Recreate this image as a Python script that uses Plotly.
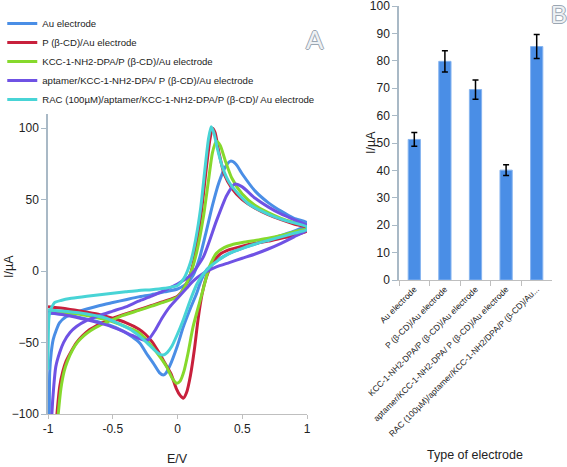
import plotly.graph_objects as go

# ---------------- Panel A : cyclic voltammograms (E/V, I/uA) ----------------
au_E = [-0.995, -0.99, -0.987, -0.975, -0.96, -0.935, -0.91, -0.86, -0.8, -0.7, -0.6, -0.5, -0.4, -0.3, -0.2, -0.1, 0.0,
        0.06, 0.12, 0.17, 0.22, 0.27, 0.32, 0.37, 0.41, 0.45, 0.5, 0.6, 0.7, 0.8, 0.9, 1.0,
        1.0, 0.9, 0.8, 0.7, 0.6, 0.5, 0.4, 0.3, 0.226, 0.18, 0.148, 0.1, 0.045, 0.0, -0.058, -0.09, -0.11, -0.14,
        -0.19, -0.237, -0.29, -0.35, -0.42, -0.55, -0.68, -0.8, -0.93, -1.0]
au_I = [-115, -100, -71, -57, -48, -41, -36, -32, -29.5, -26.5, -24, -22, -20, -18, -16.5, -14.5, -12.5,
        -9.5, -3, 9, 27, 46, 62, 73, 77, 75, 68, 56, 48, 42, 37, 34,
        32, 28, 25, 22, 19, 16, 12.5, 7, 1, -7, -15.5, -26, -39, -52, -66, -71.5, -72.7, -71,
        -64, -58, -50.5, -46, -42, -37, -34, -31.5, -29.8, -29.5]

pcd_E = [-0.945, -0.93, -0.91, -0.885, -0.86, -0.82, -0.78, -0.73, -0.68, -0.6, -0.5, -0.42, -0.3, -0.2, -0.1, 0.0,
         0.05, 0.1, 0.14, 0.18, 0.22, 0.25, 0.27, 0.29, 0.32, 0.36, 0.42, 0.5, 0.6, 0.7, 0.8, 0.9, 1.0,
         1.0, 0.9, 0.8, 0.7, 0.6, 0.5, 0.4, 0.33, 0.28, 0.25, 0.22, 0.19, 0.16, 0.13, 0.1, 0.07, 0.045, 0.02,
         -0.01, -0.05, -0.1, -0.15, -0.2, -0.25, -0.3, -0.4, -0.5, -0.6, -0.7, -0.85, -1.0]
pcd_I = [-115, -99, -81, -70, -63, -56, -50, -45, -41, -37, -33, -30.5, -27, -24, -21, -17.5,
         -12, -2, 14, 38, 70, 92, 100, 97, 83, 68, 58, 50, 44, 39.5, 36, 33, 30.5,
         28, 25, 23, 21, 19.5, 17.5, 15, 12, 7, 2, -5, -16, -33, -55, -73, -85, -89, -87,
         -82, -72, -64, -56, -49, -44, -40.5, -36, -33, -30.5, -28.8, -26.5, -25]

kcc_E = [-0.935, -0.92, -0.9, -0.875, -0.85, -0.81, -0.77, -0.72, -0.67, -0.6, -0.5, -0.42, -0.3, -0.2, -0.1, 0.0,
         0.05, 0.1, 0.15, 0.2, 0.24, 0.27, 0.3, 0.33, 0.37, 0.42, 0.5, 0.6, 0.7, 0.8, 0.9, 1.0,
         1.0, 0.9, 0.8, 0.7, 0.6, 0.5, 0.42, 0.36, 0.3, 0.26, 0.238, 0.2, 0.17, 0.12, 0.08, 0.05, 0.02, -0.006,
         -0.04, -0.084, -0.12, -0.16, -0.24, -0.3, -0.37, -0.45, -0.55, -0.7, -0.85, -1.0]
kcc_I = [-115, -99, -82, -70, -63, -55, -49.5, -45, -41.5, -38, -34, -31, -27.5, -24.5, -21.5, -18,
         -12, -2, 14, 38, 64, 83, 91, 88, 77, 65, 54, 46, 41, 37, 34, 32,
         30, 27.5, 25, 23, 21.5, 20, 18.5, 16.5, 12.5, 6, 0.8, -12, -22, -39, -58, -70, -77, -78.5,
         -75, -67, -62, -57, -48, -43, -40, -37, -34, -31, -29, -28]

apt_E = [-0.975, -0.97, -0.955, -0.94, -0.91, -0.88, -0.83, -0.78, -0.7, -0.6, -0.5, -0.4, -0.3, -0.2, -0.1, 0.0,
         0.1, 0.2, 0.3, 0.38, 0.445, 0.5, 0.6, 0.7, 0.8, 0.9, 1.0,
         1.0, 0.9, 0.8, 0.7, 0.6, 0.5, 0.4, 0.3, 0.2, 0.12, 0.07, 0.0, -0.06, -0.12, -0.17, -0.226,
         -0.27, -0.35, -0.45, -0.55, -0.7, -0.85, -1.0]
apt_I = [-115, -100, -80, -67, -57, -50, -43, -38.8, -34.5, -31, -28, -25, -21, -17.5, -13.5, -9,
         -3, 10, 35, 53, 61, 59, 51, 45, 40, 36, 32,
         29, 24, 19.5, 15.5, 12, 9, 6, 3, -1.5, -7, -12, -19, -25, -33, -41, -48,
         -48, -45, -41, -37.6, -34, -31, -29]

rac_E = [-1.0, -0.999, -0.997, -0.993, -0.985, -0.97, -0.95, -0.9, -0.82, -0.7, -0.6, -0.5, -0.4, -0.3, -0.2, -0.1, 0.0,
         0.05, 0.1, 0.14, 0.18, 0.21, 0.24, 0.26, 0.28, 0.31, 0.35, 0.4, 0.47, 0.55, 0.65, 0.75, 0.85, 1.0,
         1.0, 0.9, 0.8, 0.7, 0.6, 0.5, 0.4, 0.32, 0.25, 0.2, 0.15, 0.1, 0.045, 0.0, -0.045, -0.08, -0.11, -0.14,
         -0.18, -0.237, -0.3, -0.36, -0.45, -0.55, -0.7, -0.85, -1.0]
rac_I = [-69, -55, -42, -33, -28, -25, -22, -20.5, -19, -17.5, -16.5, -15.5, -14.5, -13.5, -13, -12, -10,
         -5, 6, 22, 45, 70, 93, 101, 97, 85, 72, 62, 54, 47, 42, 38, 35, 31,
         29, 26.5, 24, 21.5, 19, 16, 12.5, 8, 3, -2, -9, -20, -34, -44, -52.8, -57, -58.7, -58,
         -55, -50, -45, -41, -37, -33, -30, -28.3, -27.2]

cv_names = ["Au electrode",
            "P (β-CD)/Au electrode",
            "KCC-1-NH2-DPA/P (β-CD)/Au electrode",
            "aptamer/KCC-1-NH2-DPA/ P (β-CD)/Au electrode",
            "RAC (100µM)/aptamer/KCC-1-NH2-DPA/P (β-CD)/ Au electrode"]

# ---------------- Panel B : peak currents ----------------
bar_labels = ["Au electrode",
              "P (β-CD)/Au electrode",
              "KCC-1-NH2-DPA/P (β-CD)/Au electrode",
              "aptamer/KCC-1-NH2-DPA/ P (β-CD)/Au electrode",
              "RAC (100µM)/aptamer/KCC-1-NH2/DPA/P (β-CD)/Au..."]
bar_values = [51.3, 79.8, 69.5, 40.1, 85.2]
bar_errors = [2.5, 3.9, 3.5, 2.0, 4.4]
b_ticks = [0, 10, 20, 30, 40, 50, 60, 70, 80, 90, 100]

cv_colors = ["#4a8ee6", "#c8203c", "#86d92c", "#6f52e4", "#48d4d6"]
W, H = 567, 467

fig = go.Figure()
curves = [(au_E, au_I), (pcd_E, pcd_I), (kcc_E, kcc_I), (apt_E, apt_I), (rac_E, rac_I)]
for (E, I), name, col in zip(curves, cv_names, cv_colors):
    fig.add_trace(go.Scatter(x=E, y=I, name=name, mode="lines",
                             line=dict(color=col, width=3, shape="spline", smoothing=0.6),
                             xaxis="x", yaxis="y"))

fig.add_trace(go.Bar(x=bar_labels, y=bar_values, showlegend=False,
                     marker=dict(color="#4a8ee6", line=dict(color="#86b4f0", width=1)),
                     error_y=dict(type="data", array=bar_errors, color="black", thickness=1.5, width=3),
                     xaxis="x2", yaxis="y2"))

font = "Liberation Sans, Arial, sans-serif"
axcol = "#a9b9c6"

fig.update_layout(
    width=W, height=H, margin=dict(l=0, r=0, t=0, b=0),
    paper_bgcolor="white", plot_bgcolor="white",
    font=dict(family=font, size=12, color="#222"),
    showlegend=True,
    legend=dict(x=0.004, y=(H - 9) / H, xanchor="left", yanchor="top", bgcolor="rgba(0,0,0,0)",
                font=dict(size=9.6, family=font, color="#222"), tracegroupgap=0, itemwidth=30),
    bargap=0.6,
    xaxis=dict(domain=[48 / W, 307 / W], range=[-1, 1], tickvals=[-1, -0.5, 0, 0.5, 1],
               ticktext=["-1", "-0.5", "0", "0.5", "1"],
               showline=True, linecolor="#bfbfbf", linewidth=1, ticks="outside", ticklen=4, tickcolor="#bfbfbf",
               showgrid=False, zeroline=False, anchor="y", automargin=False, tickfont=dict(size=12)),
    yaxis=dict(domain=[(H - 414) / H, (H - 114) / H], range=[-100, 110], tickvals=[-100, -50, 0, 50, 100],
               showline=True, linecolor=axcol, linewidth=1.5, ticks="outside", ticklen=5, tickcolor=axcol,
               showgrid=False, zeroline=False, anchor="x", automargin=False, tickfont=dict(size=12)),
    xaxis2=dict(domain=[399 / W, 552 / W], type="category", tickson="boundaries",
                showline=True, linecolor="#bfbfbf", linewidth=1, ticks="outside", ticklen=5, tickcolor="#bfbfbf",
                tickangle=-45, tickfont=dict(size=8.5), showgrid=False, anchor="y2", automargin=False),
    yaxis2=dict(domain=[(H - 280) / H, (H - 6) / H], range=[0, 100], tickmode="array",
                tickvals=b_ticks, ticktext=[str(t) for t in b_ticks], ticklabeloverflow="allow",
                showline=True, linecolor=axcol, linewidth=1.5, ticks="outside", ticklen=5, tickcolor=axcol,
                showgrid=False, zeroline=False, anchor="x2", automargin=False, tickfont=dict(size=12)),
)

outline = "1px 0 0 #9aa6b2, -1px 0 0 #9aa6b2, 0 1px 0 #9aa6b2, 0 -1px 0 #9aa6b2"
ann = [
    dict(text="E/V", x=177 / W, y=(H - 459) / H, xref="paper", yref="paper", showarrow=False,
         font=dict(size=12.5), xanchor="center", yanchor="middle"),
    dict(text="I/µA", x=9 / W, y=(H - 267) / H, xref="paper", yref="paper", showarrow=False,
         font=dict(size=12.5), textangle=-90, xanchor="center", yanchor="middle"),
    dict(text="Type of electrode", x=475 / W, y=(H - 455) / H, xref="paper", yref="paper", showarrow=False,
         font=dict(size=12.5), xanchor="center", yanchor="middle"),
    dict(text="I/µA", x=371 / W, y=(H - 143) / H, xref="paper", yref="paper", showarrow=False,
         font=dict(size=12.5), textangle=-90, xanchor="center", yanchor="middle"),
    dict(text="A", x=315 / W, y=(H - 40) / H, xref="paper", yref="paper", showarrow=False,
         font=dict(size=26, color="#eef1f4", shadow=outline), xanchor="center", yanchor="middle"),
    dict(text="B", x=559 / W, y=(H - 14) / H, xref="paper", yref="paper", showarrow=False,
         font=dict(size=24, color="#eef1f4", shadow=outline), xanchor="center", yanchor="middle"),
]
fig.update_layout(annotations=ann)

fig.write_html("out.html", config={"displayModeBar": False},
               post_script="document.body.style.margin='0';")
